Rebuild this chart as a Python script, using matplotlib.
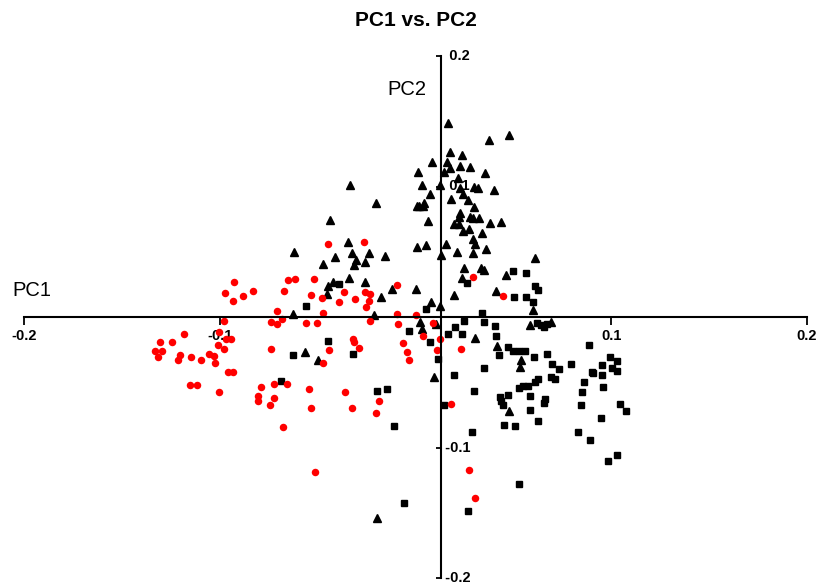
import matplotlib
matplotlib.use("Agg")
import matplotlib.pyplot as plt

plt.rcParams['font.family'] = ['Liberation Sans', 'DejaVu Sans']

# series (PC1, PC2)
red_x = [-0.0927, -0.0973, -0.0932, -0.0881, -0.0830, -0.0978, -0.1184, -0.1242, -0.1305, -0.1332,
         -0.1295, -0.1316, -0.1203, -0.1213, -0.1145, -0.1094, -0.1056, -0.1031, -0.1024, -0.1004,
         -0.0966, -0.0945, -0.1007, -0.0980, -0.0956, -0.0932, -0.1153, -0.1116, -0.1004, -0.0790,
         -0.0804, -0.0804, -0.0739, -0.0448, -0.0265, -0.0649, -0.0618, -0.0521, -0.0671, -0.0535,
         -0.0477, -0.0367, -0.0391, -0.0311, -0.0258, -0.0233, -0.0236, -0.0255, -0.0092, -0.0707,
         -0.0738, -0.0707, -0.0683, -0.0557, -0.0504, -0.0470, -0.0230, -0.0088, -0.0441, -0.0470,
         -0.0321, -0.0315, -0.0287, -0.0724, -0.0657, -0.0724, -0.0741, -0.0543, -0.0535, -0.0361,
         -0.0326, -0.0189, -0.0202, -0.0678, -0.0514, 0.0182, 0.0274, 0.0303, 0.0292, -0.0092,
         0.0005, 0.0088, 0.0037, 0.0125, -0.0065, 0.0112, 0.0231, -0.0042, -0.0032, 0.0445]
red_y = [0.0272, 0.0185, 0.0124, 0.0159, 0.0203, -0.0027, -0.0132, -0.0193, -0.0193, -0.0264,
         -0.0264, -0.0305, -0.0293, -0.0326, -0.0308, -0.0326, -0.0282, -0.0300, -0.0356, -0.0116,
         -0.0172, -0.0167, -0.0218, -0.0249, -0.0420, -0.0420, -0.0523, -0.0523, -0.0573, -0.0533,
         -0.0607, -0.0645, -0.0244, 0.0561, 0.0573, 0.0282, 0.0293, 0.0293, 0.0198, 0.0165,
         0.0149, 0.0190, 0.0113, 0.0139, 0.0190, 0.0175, 0.0126, 0.0075, 0.0249, 0.0044,
         -0.0037, -0.0057, -0.0019, -0.0048, -0.0048, 0.0034, -0.0027, -0.0055, -0.0254, -0.0351,
         -0.0167, -0.0188, -0.0236, -0.0515, -0.0510, -0.0617, -0.0671, -0.0550, -0.0699, -0.0571,
         -0.0699, -0.0645, -0.0732, -0.0843, -0.1189, -0.0663, -0.1169, -0.1385, 0.0310, 0.0025,
         0.0014, -0.0044, -0.0142, -0.0167, -0.0199, -0.0254, -0.0245, -0.0270, -0.0331, 0.0159]

tri_x = [0.0165, 0.0478, 0.0373, 0.0175, 0.0238, 0.0084, 0.0160, 0.0176, 0.0226, 0.0279,
         0.0014, 0.0147, 0.0357, 0.0216, 0.0033, 0.0125, 0.0228, 0.0301, 0.0318, 0.0400,
         0.0073, 0.0241, 0.0180, 0.0270, 0.0006, 0.0019, 0.0037, 0.0043, 0.0298, 0.0226,
         0.0221, 0.0279, 0.0293, 0.0323, 0.0062, 0.0195, 0.0223, 0.0383, 0.0439, 0.0245,
         0.0274, 0.0339, 0.0293, 0.0303, 0.0006, 0.0052, 0.0154, 0.0362, 0.0214, 0.0129,
         0.0296, -0.0158, 0.0608, 0.0335, 0.0352, 0.0248, 0.0236, 0.0461, -0.0120, 0.0001,
         0.0198, 0.0410, -0.0176, 0.0079, 0.0125, 0.0598, 0.0023, 0.0033, 0.0304, 0.0586,
         0.0693, 0.0105, -0.0212, -0.0258, -0.0437, -0.0335, -0.0202, -0.0347, -0.0621, -0.0410,
         -0.0326, -0.0236, -0.0473, -0.0304, -0.0315, -0.0258, -0.0339, -0.0420, -0.0449, -0.0454,
         -0.0625, -0.0562, -0.0497, 0.0095, 0.0417, 0.0538, 0.0535, 0.0478, -0.0198]
tri_y = [0.1483, 0.1395, 0.1356, 0.1263, 0.1245, 0.1186, 0.1186, 0.1143, 0.1156, 0.1146,
         0.1113, 0.1110, 0.1100, 0.1067, 0.1008, 0.1008, 0.0990, 0.0998, 0.0990, 0.0977,
         0.0946, 0.0946, 0.0906, 0.0900, 0.0854, 0.0854, 0.0854, 0.0870, 0.0841, 0.0798,
         0.0768, 0.0768, 0.0760, 0.0755, 0.0734, 0.0709, 0.0716, 0.0722, 0.0730, 0.0657,
         0.0676, 0.0645, 0.0599, 0.0563, 0.0538, 0.0548, 0.0556, 0.0520, 0.0497, 0.0474,
         0.0487, 0.0471, 0.0454, 0.0377, 0.0359, 0.0377, 0.0300, 0.0322, 0.0216, 0.0211,
         0.0165, 0.0198, 0.0152, 0.0113, 0.0084, 0.0057, -0.0042, -0.0092, -0.0163, -0.0060,
         -0.0042, -0.0057, 0.0015, 0.0272, 0.0747, 0.1008, 0.0870, 0.0573, 0.0500, 0.0458,
         0.0492, 0.0492, 0.0408, 0.0433, 0.0397, 0.0423, 0.0297, 0.0272, 0.0236, 0.0180,
         0.0025, -0.0267, -0.0326, -0.0458, -0.0221, -0.0326, -0.0382, -0.0717, -0.1539]

sq_x = [0.0497, 0.0565, 0.0261, 0.0609, 0.0628, 0.0502, 0.0562, 0.0601, 0.0338, 0.0250,
        0.0352, 0.0202, 0.0165, 0.0239, 0.0404, 0.0412, 0.0642, 0.0659, 0.0670, 0.0620,
        0.0475, 0.0500, 0.0531, 0.0560, 0.0427, 0.0603, 0.0673, 0.0698, 0.0734, 0.0794,
        0.0884, 0.0993, 0.1031, 0.0954, 0.1005, 0.1029, 0.0900, 0.0909, 0.0955, 0.0693,
        0.0714, 0.0198, 0.0352, 0.0628, 0.0611, 0.0577, 0.0551, 0.0529, 0.0859, 0.0850,
        0.0959, 0.0301, 0.0472, 0.0432, 0.0437, 0.0446, 0.0586, 0.0662, 0.0657, 0.0146,
        0.0586, 0.0845, 0.1046, 0.1074, 0.0949, 0.0627, 0.0450, 0.0509, 0.0291, 0.0828,
        0.0890, 0.1029, 0.0983, 0.0054, -0.0033, 0.0074, 0.0117, -0.0557, -0.0393, -0.0448,
        -0.0628, -0.0321, -0.0686, -0.0198, -0.0144, -0.0110, -0.0059, 0.0267, 0.0529]
sq_y = [0.0352, 0.0336, 0.0264, 0.0236, 0.0205, 0.0155, 0.0155, 0.0113, 0.0028, -0.0029,
        -0.0042, -0.0077, -0.0134, -0.0134, -0.0067, -0.0149, -0.0065, -0.0079, -0.0057, -0.0044,
        -0.0228, -0.0262, -0.0262, -0.0262, -0.0290, -0.0305, -0.0286, -0.0362, -0.0402, -0.0362,
        -0.0211, -0.0303, -0.0336, -0.0369, -0.0389, -0.0414, -0.0418, -0.0428, -0.0446, -0.0457,
        -0.0474, -0.0441, -0.0391, -0.0474, -0.0500, -0.0530, -0.0530, -0.0543, -0.0500, -0.0571,
        -0.0534, -0.0567, -0.0599, -0.0615, -0.0645, -0.0673, -0.0607, -0.0627, -0.0657, -0.0676,
        -0.0714, -0.0672, -0.0669, -0.0717, -0.0775, -0.0798, -0.0824, -0.0834, -0.0885, -0.0880,
        -0.0939, -0.1059, -0.1105, 0.0065, -0.0111, -0.0193, -0.0320, 0.0088, 0.0254, -0.0185,
        -0.0295, -0.0287, -0.0488, -0.0567, -0.0549, -0.0838, -0.1429, -0.1490, -0.1280]

xticks = [-0.2, -0.1, 0.1, 0.2]
yticks = [-0.2, -0.1, 0.1, 0.2]
y_axis_at = 0.013

fig = plt.figure(figsize=(8.21, 5.85), dpi=100)
ax = fig.add_axes([24 / 821, 7 / 585, 783 / 821, 522 / 585])

ax.plot(sq_x, sq_y, 's', color='black', markersize=4.8, linestyle='none')
ax.plot(tri_x, tri_y, '^', color='black', markersize=5.2, linestyle='none')
ax.plot(red_x, red_y, 'o', color='#ff0000', markersize=5.4, markeredgewidth=0, linestyle='none')

ax.set_xlim(-0.2, 0.2)
ax.set_ylim(-0.2, 0.2)

ax.spines['top'].set_visible(False)
ax.spines['right'].set_visible(False)
ax.spines['bottom'].set_position(('data', 0))
ax.spines['left'].set_position(('data', y_axis_at))
for s in ('bottom', 'left'):
    ax.spines[s].set_linewidth(1.5)

ax.set_xticks(xticks, [str(t) for t in xticks], fontweight='bold', fontsize=10.5)
ax.tick_params(axis='x', direction='out', length=5.5, width=1.3, pad=3)
ax.set_yticks(yticks)
ax.tick_params(axis='y', direction='out', length=3.5, width=1.3, labelleft=False)
for t in yticks:
    ax.text(y_axis_at, t, '  ' + str(t) if t > 0 else ' ' + str(t), fontsize=10.5,
            fontweight='bold', ha='left', va='center')

ax.text(-0.2 - 0.006, 0.013, 'PC1', fontsize=14.5, ha='left', va='bottom')
ax.text(-0.0145, 0.167, 'PC2', fontsize=14.5, ha='left', va='bottom')

fig.text(416 / 821, 1 - 21 / 585, 'PC1 vs. PC2', fontsize=15, fontweight='bold',
         ha='center', va='center')

fig.savefig('out.png', dpi=100)
